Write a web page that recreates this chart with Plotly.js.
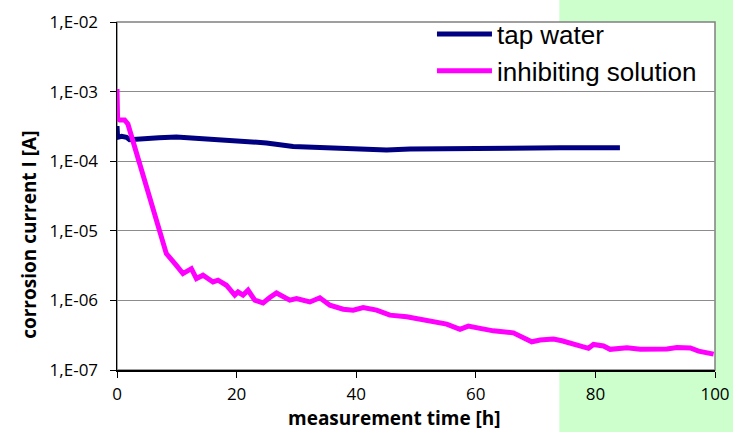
<!DOCTYPE html>
<html>
<head>
<meta charset="utf-8">
<script src="https://cdn.plot.ly/plotly-3.0.1.min.js"></script>
<style>html,body{margin:0;padding:0;background:#fff;}#chart{width:733px;height:432px;}</style>
</head>
<body>
<div id="chart"></div>
<script>
// tap water
const tapTime = [0, 0.1, 0.77, 1.6, 2.1, 4.34, 7, 9.93, 13.8, 18.3, 22.75, 25, 29.45, 35.04, 42.29, 45.09, 48.99, 53, 57.36, 65.73, 74.1, 80, 84.1];
const tapCurrent = [3.2e-4, 2.2e-4, 2.28e-4, 2.2e-4, 2.04e-4, 2.12e-4, 2.18e-4, 2.23e-4, 2.12e-4, 1.97e-4, 1.91e-4, 1.83e-4, 1.63e-4, 1.55e-4, 1.50e-4, 1.45e-4, 1.50e-4, 1.52e-4, 1.55e-4, 1.53e-4, 1.56e-4, 1.58e-4, 1.56e-4];

// inhibiting solution
const inhTime = [0, 0.1, 0.44, 1.27, 1.82, 2.39, 3.23, 4.34, 6.01, 7.13, 8.25, 9.93, 11.03, 12.44, 13.28, 14.38, 16.06, 16.89, 18.3, 19.69, 20.24, 21.08, 21.92, 23.04, 24.43, 25.55, 26.67, 28.9, 30.02, 32.25, 33.92, 35.6, 37.82, 39.5, 41.17, 43.41, 45.64, 48.44, 50.66, 52.89, 55.13, 57.36, 58.75, 60.71, 62.93, 66.28, 67.96, 69.36, 70.75, 72.98, 74.39, 75.77, 77.45, 78.84, 79.68, 81.35, 82.47, 85.27, 87.5, 89.72, 91.96, 93.64, 95.87, 97.26, 99.77];
const inhCurrent = [1.09e-3, 4.07e-4, 3.91e-4, 3.91e-4, 3.42e-4, 2.33e-4, 1.42e-4, 6.58e-5, 2.19e-5, 9.08e-6, 4.70e-6, 3.19e-6, 2.43e-6, 2.86e-6, 2.06e-6, 2.30e-6, 1.84e-6, 1.95e-6, 1.65e-6, 1.19e-6, 1.32e-6, 1.19e-6, 1.40e-6, 1.01e-6, 9.2e-7, 1.10e-6, 1.28e-6, 1.01e-6, 1.06e-6, 9.5e-7, 1.09e-6, 8.53e-7, 7.48e-7, 7.24e-7, 7.91e-7, 7.24e-7, 6.14e-7, 5.81e-7, 5.38e-7, 4.92e-7, 4.56e-7, 3.83e-7, 4.27e-7, 3.96e-7, 3.65e-7, 3.42e-7, 2.94e-7, 2.54e-7, 2.69e-7, 2.78e-7, 2.63e-7, 2.46e-7, 2.28e-7, 2.05e-7, 2.33e-7, 2.21e-7, 1.98e-7, 2.09e-7, 1.98e-7, 2.0e-7, 2.0e-7, 2.11e-7, 2.07e-7, 1.87e-7, 1.69e-7];

const yTickVals = [1e-7, 1e-6, 1e-5, 1e-4, 1e-3, 1e-2];
const yTickText = ["1,E-07", "1,E-06", "1,E-05", "1,E-04", "1,E-03", "1,E-02"];
const xTickVals = [0, 20, 40, 60, 80, 100];
const xTitle = "measurement time [h]";
const yTitle = "corrosion current I [A]";

const traces = [
  {x: tapTime, y: tapCurrent, name: "tap water", type: "scatter", mode: "lines",
   line: {color: "#000080", width: 5}},
  {x: inhTime, y: inhCurrent, name: "inhibiting solution", type: "scatter", mode: "lines",
   line: {color: "#FF00FF", width: 5}}
];

const tickFont = {family: "'Open Sans', 'DejaVu Sans', sans-serif", size: 17, color: "#000"};
const titleFont = {family: "'Open Sans', 'DejaVu Sans', sans-serif", size: 19, color: "#000", weight: 700};

const layout = {
  width: 733, height: 432,
  margin: {l: 117.4, r: 18.2, t: 21, b: 62},
  paper_bgcolor: "#ffffff",
  plot_bgcolor: "rgba(0,0,0,0)",
  showlegend: true,
  legend: {
    x: 0.5267, y: 1.03, xanchor: "left", yanchor: "top",
    bgcolor: "rgba(0,0,0,0)", borderwidth: 0,
    font: {family: "'Liberation Sans', Arial, sans-serif", size: 26, color: "#000"},
    itemwidth: 55, tracegroupgap: 0
  },
  xaxis: {
    range: [0, 100], tickvals: xTickVals, ticks: "outside", ticklen: 6, tickcolor: "#000",
    showline: true, linecolor: "#000", linewidth: 1.5, showgrid: false, zeroline: false,
    tickfont: tickFont, ticklabelstandoff: 2
  },
  yaxis: {
    type: "log", range: [-7, -2], tickvals: yTickVals, ticktext: yTickText,
    ticks: "outside", ticklen: 6, tickcolor: "#000",
    showline: true, linecolor: "#000", linewidth: 1.5,
    showgrid: true, gridcolor: "#8c8c8c", gridwidth: 1, zeroline: false,
    tickfont: tickFont, ticklabelstandoff: 8
  },
  annotations: [
    {text: xTitle, xref: "paper", yref: "paper", x: 0.4647, y: -0.1375,
     xanchor: "center", yanchor: "middle", showarrow: false, font: titleFont},
    {text: yTitle, xref: "paper", yref: "paper", x: -0.1463, y: 0.387, textangle: -90,
     xanchor: "center", yanchor: "middle", showarrow: false, font: titleFont}
  ],
  shapes: [
    {type: "rect", xref: "paper", yref: "paper", x0: 0.7397, x1: 1.2, y0: -0.3, y1: 1.2,
     fillcolor: "#CCFFCC", line: {width: 0}, layer: "below"},
    {type: "rect", xref: "paper", yref: "paper", x0: 0, x1: 1, y0: 0, y1: 1,
     fillcolor: "#ffffff", line: {color: "#808080", width: 1.5}, layer: "below"}
  ]
};

Plotly.newPlot("chart", traces, layout, {displayModeBar: false, staticPlot: true});
</script>
</body>
</html>
